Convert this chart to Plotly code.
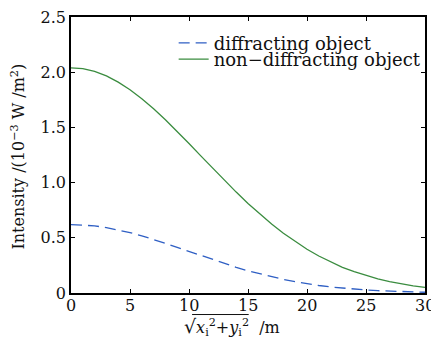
import plotly.graph_objects as go

x_vals = list(range(0, 31))
diffracting = [0.620, 0.617, 0.608, 0.593, 0.573, 0.547, 0.518, 0.486, 0.450, 0.413,
               0.376, 0.339, 0.302, 0.267, 0.233, 0.201, 0.173, 0.147, 0.123, 0.102,
               0.084, 0.068, 0.055, 0.044, 0.035, 0.027, 0.021, 0.016, 0.012, 0.009, 0.007]
non_diffracting = [2.040, 2.032, 2.007, 1.966, 1.910, 1.841, 1.760, 1.669, 1.569, 1.464,
                   1.354, 1.242, 1.131, 1.021, 0.914, 0.811, 0.714, 0.624, 0.541, 0.465,
                   0.396, 0.335, 0.281, 0.233, 0.193, 0.157, 0.128, 0.103, 0.082, 0.065, 0.051]
x_ticks = [0, 5, 10, 15, 20, 25, 30]
x_ticktext = ["0", "5", "10", "15", "20", "25", "30"]
y_ticks = [0, 0.5, 1.0, 1.5, 2.0, 2.5]
y_ticktext = ["0", "0.5", "1.0", "1.5", "2.0", "2.5"]

FONT = "'DejaVu Serif', 'Liberation Serif', serif"
BLUE = "#2f5fc4"
GREEN = "#3a8c3f"

fig = go.Figure()
fig.add_trace(go.Scatter(x=x_vals, y=diffracting, mode="lines", name="diffracting object",
                         line=dict(color=BLUE, width=1.3, dash="11px,6px"),
                         legend="legend", showlegend=True))
fig.add_trace(go.Scatter(x=x_vals, y=non_diffracting, mode="lines", name="non\u2212diffracting object",
                         line=dict(color=GREEN, width=1.3),
                         legend="legend2", showlegend=True))

axis_common = dict(showline=True, linecolor="black", linewidth=1.5, mirror="ticks",
                   ticks="inside", ticklen=4, tickcolor="black", tickwidth=1,
                   showgrid=False, zeroline=False, automargin=False,
                   ticklabeloverflow="allow",
                   tickfont=dict(family=FONT, size=16, color="#111"))

tick_annotations = [
    dict(text=t, x=v, xref="x", yref="paper", y=-0.0435, xanchor="center", yanchor="middle",
         showarrow=False, font=dict(family=FONT, size=16, color="#111"))
    for v, t in zip(x_ticks, x_ticktext)
]

# page body has an 8px margin, so the figure is sized/margined to compensate
fig.update_layout(
    width=431, height=332,
    margin=dict(l=63, r=14, t=9, b=47, autoexpand=False),
    paper_bgcolor="white", plot_bgcolor="white",
    font=dict(family=FONT, color="#111"),
    showlegend=True,
    xaxis=dict(range=[0, 30], tickvals=x_ticks, showticklabels=False, **axis_common),
    yaxis=dict(range=[0, 2.5], tickvals=y_ticks, ticktext=y_ticktext, **axis_common),
    legend=dict(x=0.29, y=0.972, xanchor="left", yanchor="top", bgcolor="rgba(0,0,0,0)",
                font=dict(family=FONT, size=18, color="#111"), borderwidth=0),
    legend2=dict(x=0.29, y=0.913, xanchor="left", yanchor="top", bgcolor="rgba(0,0,0,0)",
                 font=dict(family=FONT, size=18, color="#111"), borderwidth=0),
    annotations=tick_annotations + [
        dict(text="Intensity /(10<sup>\u22123</sup> W /m<sup>2</sup>)", textangle=-90,
             xref="paper", yref="paper", x=-0.148, y=0.493, xanchor="center", yanchor="middle",
             showarrow=False, font=dict(family=FONT, size=16, color="#111")),
        dict(text="<span style='font-size:19px'>\u221a</span><i>x</i><sub>i</sub><sup>2</sup>+<i>y</i><sub>i</sub><sup>2</sup>  /m",
             xref="paper", yref="paper", x=0.455, y=-0.175, xanchor="center", yanchor="bottom",
             showarrow=False, font=dict(family=FONT, size=16, color="#111")),
    ],
    shapes=[
        dict(type="line", xref="paper", yref="paper", x0=0.342, x1=0.502, y0=-0.078, y1=-0.078,
             line=dict(color="#111", width=1)),
    ],
)

fig.write_html("out.html")
